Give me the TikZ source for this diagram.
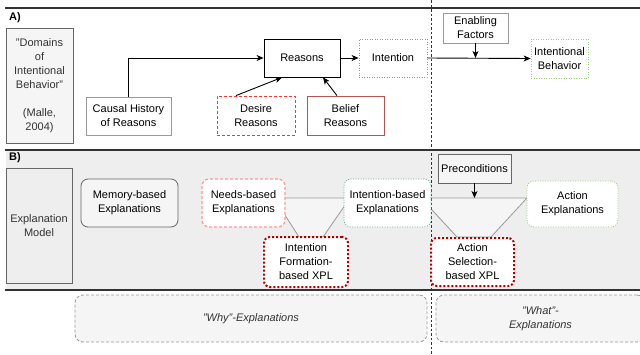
\documentclass[tikz,border=0pt]{standalone}
\usepackage{fontspec}
\setmainfont{Liberation Sans}
\usetikzlibrary{arrows.meta}
\definecolor{dkline}{HTML}{333333}
\definecolor{gborder}{HTML}{666666}
\definecolor{lgborder}{HTML}{999999}
\definecolor{bgB}{HTML}{EEEEEE}
\definecolor{lightfill}{HTML}{F5F5F5}
\definecolor{teal}{HTML}{67AB9F}
\definecolor{lgreen}{HTML}{97D077}
\definecolor{redd}{HTML}{FF3333}
\definecolor{pinkred}{HTML}{FF9999}
\definecolor{brownred}{HTML}{B85450}
\definecolor{darkred}{HTML}{B20000}
\begin{document}
\begin{tikzpicture}[x=1pt,y=-1pt,
  every node/.style={font=\fontsize{11}{14}\selectfont, align=center, inner sep=1pt},
  box/.style={draw, line width=0.8pt, fill=white},
  greybox/.style={box, draw=gborder, fill=lightfill, text=dkline},
  plainbox/.style={box, draw=lgborder},
  blackbox/.style={box, draw=black},
  tealdot/.style={box, draw=teal, dash pattern=on 1pt off 1.5pt},
  greendot/.style={box, draw=lgreen, dash pattern=on 1pt off 1.5pt},
  reddash/.style={box, draw=redd, dash pattern=on 3pt off 2pt},
  pinkdash/.style={box, draw=pinkred, line width=1.3pt, dash pattern=on 3pt off 2pt},
  beliefbox/.style={box, draw=brownred},
  xplbox/.style={box, draw=darkred, line width=2pt, dash pattern=on 2pt off 2pt, rounded corners=6pt},
  rbox/.style={rounded corners=7pt},
  summary/.style={draw=lgborder, line width=0.8pt, dash pattern=on 3pt off 2pt, fill=lightfill, rounded corners=8pt, text=dkline, font=\fontsize{11}{14}\selectfont\itshape},
  funnel/.style={draw=lgborder, line width=0.8pt, fill=lightfill},
  arr/.style={draw=black, line width=0.9pt, -{Stealth[length=7pt,width=6pt,inset=2pt]}},
  sepline/.style={draw=dkline, line width=2pt},
  lab/.style={font=\fontsize{11}{14}\selectfont\bfseries, anchor=west, inner sep=0pt}
]
\useasboundingbox (0,0) rectangle (640,354);
% section backgrounds
\fill[bgB] (6,150) rectangle (640,290);
\draw[sepline] (5,8) -- (640,8);
\draw[sepline] (5,150) -- (640,150);
\draw[sepline] (5,290) -- (640,290);
\node[lab] (labA) at (9,18) {A)};
\node[lab] (labB) at (9,158) {B)};

% funnels
\coordinate (fa1) at (274,198);
\coordinate (fa2) at (350,198);
\coordinate (fa3) at (323,237);
\coordinate (fa4) at (299,237);
\draw[funnel] (fa1) -- (fa2) -- (fa3) -- (fa4) -- cycle;
\coordinate (fb1) at (421,198);
\coordinate (fb2) at (527,198);
\coordinate (fb3) at (491,237);
\coordinate (fb4) at (457,237);
\draw[funnel] (fb1) -- (fb2) -- (fb3) -- (fb4) -- cycle;

% vertical divider
\coordinate (vtop) at (431,0);
\coordinate (vbot) at (431,354);
\draw[dkline, line width=0.8pt, dash pattern=on 2.5pt off 2pt] (vtop) -- (vbot);

% section A
\node[greybox, minimum width=67pt, minimum height=115pt] (domains) at (39.5,85.5)
  {"Domains\\of\\Intentional\\Behavior"\\[14pt](Malle,\\2004)};
\node[plainbox, minimum width=85pt, minimum height=38pt] (causal) at (128.5,116) {Causal History\\of Reasons};
\node[blackbox, minimum width=76pt, minimum height=38pt] (reasons) at (302,58) {Reasons};
\node[tealdot, minimum width=68pt, minimum height=38pt] (intention) at (393,58) {Intention};
\node[reddash, minimum width=78pt, minimum height=39pt] (desire) at (256,115.5) {Desire\\Reasons};
\node[beliefbox, minimum width=77pt, minimum height=39pt] (belief) at (345.5,115.5) {Belief\\Reasons};
\node[plainbox, minimum width=65pt, minimum height=30pt] (enabling) at (475.5,28) {Enabling\\Factors};
\node[greendot, minimum width=57pt, minimum height=39pt] (behavior) at (559.5,58.5) {Intentional\\Behavior};

\draw[arr] (causal.north) |- (reasons.west);
\draw[arr] ([xshift=-20pt]desire.north) -- ([xshift=-20pt]reasons.south);
\draw[arr] ([xshift=-8.5pt]belief.north) -- ([xshift=21pt]reasons.south);
\draw[arr] (reasons.east) -- (intention.west);
\draw[arr] (intention.east) -- (behavior.west);
\draw[arr] (enabling.south) -- (enabling.south |- intention.east);

% section B
\node[greybox, fill=bgB, minimum width=66pt, minimum height=115pt] (explmodel) at (39,225.5) {Explanation\\Model};
\node[greybox, rbox, text=black, minimum width=97pt, minimum height=48pt] (memory) at (129.5,203) {Memory-based\\Explanations};
\node[pinkdash, rbox, minimum width=83pt, minimum height=48pt] (needs) at (243.5,203) {Needs-based\\Explanations};
\node[tealdot, rbox, minimum width=87pt, minimum height=48pt] (intbased) at (387.5,203) {Intention-based\\Explanations};
\node[xplbox, minimum width=84pt, minimum height=50pt] (formation) at (306,262) {Intention\\Formation-\\based XPL};
\node[xplbox, minimum width=83pt, minimum height=48pt] (selection) at (472.5,262) {Action\\Selection-\\based XPL};
\node[greybox, text=black, minimum width=73pt, minimum height=29pt] (precond) at (474.5,168.5) {Preconditions};
\node[greendot, rbox, minimum width=91pt, minimum height=46pt] (action) at (572.5,204) {Action\\Explanations};

\draw[arr] (precond.south) -- (precond.south |- fb1);

% summary row
\node[summary, minimum width=352pt, minimum height=47pt] (why) at (251,318.5) {"Why"-Explanations};
\node[summary, minimum width=209pt, minimum height=47pt] (what) at (540.5,318.5) {"What"-\\Explanations};
\end{tikzpicture}
\end{document}
